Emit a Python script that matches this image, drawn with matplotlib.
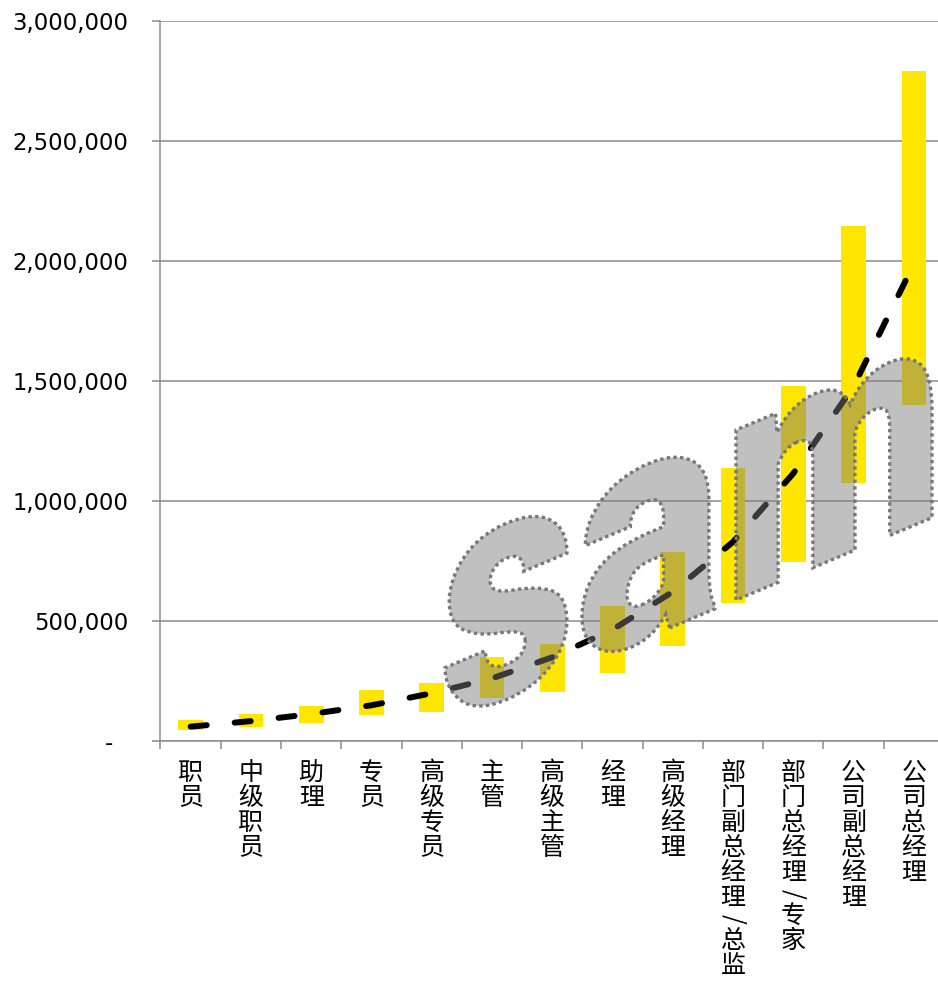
import matplotlib.pyplot as plt
import numpy as np
from matplotlib import font_manager
from matplotlib.font_manager import FontProperties
from matplotlib.patches import PathPatch
from matplotlib.path import Path
from matplotlib.textpath import TextPath
from matplotlib.ticker import FixedLocator, FuncFormatter
from matplotlib.transforms import Affine2D


GRADES = [
    "职员",
    "中级职员",
    "助理",
    "专员",
    "高级专员",
    "主管",
    "高级主管",
    "经理",
    "高级经理",
    "部门副总经理/总监",
    "部门总经理/专家",
    "公司副总经理",
    "公司总经理",
]

# salary band per grade: lower bound, upper bound and the reference level
BAND_LOW = [
    46000, 58000, 74000, 107000, 122000, 178000, 203000,
    285000, 396000, 574000, 745000, 1076000, 1400000,
]

BAND_HIGH = [
    87500, 112500, 146000, 211000, 243000, 351000, 403000,
    562000, 786000, 1139000, 1480000, 2147000, 2792000,
]

BAND_MID = [
    60000, 83000, 112500, 149000, 199000, 261000, 349000,
    464000, 622000, 830000, 1115000, 1478000, 1988000,
]

Y_TICKS = [0, 500000, 1000000, 1500000, 2000000, 2500000, 3000000]

STAMP_TEXT = "sam"

YELLOW = "#FFE600"
GRID_GRAY = "#8c8c8c"


def y_label(value, _pos):
    if value == 0:
        return "-  "
    return f"{int(value):,}"


def draw_vertical_label(axes, x, label):
    # stack the characters top to bottom under the axis
    offset = 31.5
    for char in label:
        is_slash = char == "/"
        if is_slash:
            offset -= 3.5
        axes.annotate(
            char,
            xy=(x, 0),
            xycoords=axes.get_xaxis_transform(),
            xytext=(0, -offset),
            textcoords="offset pixels",
            ha="center",
            va="center",
            fontsize=18,
            family=["Noto Sans CJK SC", "DejaVu Sans"],
            rotation=-90 if is_slash else 0,
            annotation_clip=False,
        )
        offset += 18 if is_slash else 25
        if is_slash:
            offset += 3.5


def stamp_font():
    preferred = [
        ("Roboto", 900),
        ("Lato", 900),
        ("Inter", 900),
        ("Open Sans", 800),
        ("Lato", 700),
        ("Roboto", 700),
    ]
    entries = font_manager.fontManager.ttflist
    for family, weight in preferred:
        for entry in entries:
            if (
                entry.name == family
                and entry.weight == weight
                and entry.style == "normal"
                and entry.stretch == "normal"
            ):
                return FontProperties(fname=entry.fname)
    return FontProperties(family="Liberation Sans", weight="bold")


def add_stamp(figure):
    prop = stamp_font()
    x_height = TextPath((0, 0), "x", size=1, prop=prop).get_extents().y1

    # pixel spans of each letter; letters are sheared upward to the right
    spans = [(445, 567), (582, 715), (736, 932)]
    pixel_x_height = 170
    slope = 0.42
    sy = pixel_x_height / x_height

    vertices = []
    codes = []
    for char, (left, right) in zip(STAMP_TEXT, spans):
        glyph = TextPath((0, 0), char, size=1, prop=prop)
        extents = glyph.get_extents()
        sx = (right - left) / extents.width
        tx = left - sx * extents.x0
        matrix = np.array([
            [sx, 0, tx],
            [slope * sx, sy, 381 + slope * (tx - 736)],
            [0, 0, 1],
        ])
        placed = glyph.transformed(Affine2D(matrix))
        vertices.append(placed.vertices)
        codes.append(placed.codes)
    path = Path(np.concatenate(vertices), np.concatenate(codes))

    fill = PathPatch(
        path,
        facecolor="#7a7a7a",
        edgecolor="none",
        alpha=0.475,
        zorder=5,
    )
    outline = PathPatch(
        path,
        facecolor="none",
        edgecolor="#777777",
        linewidth=2.4,
        linestyle=(0, (1, 1)),
        capstyle="butt",
        zorder=6,
    )
    for patch in (fill, outline):
        patch.set_transform(Affine2D())
        figure.add_artist(patch)


def main():
    figure = plt.figure(figsize=(9.38, 9.81), dpi=100)
    axes = figure.add_axes([0.1711, 0.2446, 0.8353, 0.734])

    positions = np.arange(len(GRADES))
    low = np.array(BAND_LOW)
    high = np.array(BAND_HIGH)

    axes.bar(
        positions,
        high - low,
        bottom=low,
        width=0.41,
        color=YELLOW,
        zorder=2,
    )

    axes.plot(
        positions,
        BAND_MID,
        color="black",
        linewidth=4.3,
        dashes=(2.7, 4.7),
        dash_capstyle="round",
        zorder=3,
    )

    axes.set_xlim(-0.5, len(GRADES) - 0.5)
    axes.set_ylim(0, 3000000)

    axes.set_yticks(Y_TICKS)
    axes.yaxis.set_major_formatter(FuncFormatter(y_label))
    axes.grid(axis="y", color=GRID_GRAY, linewidth=1.1, zorder=0)
    axes.set_axisbelow(True)

    axes.set_xticks(positions)
    axes.set_xticklabels([])
    axes.xaxis.set_minor_locator(
        FixedLocator(np.arange(-0.5, len(GRADES), 1.0))
    )
    axes.tick_params(axis="x", which="major", length=0)
    axes.tick_params(
        axis="x", which="minor", length=5.8, width=1.1, color=GRID_GRAY
    )
    axes.tick_params(
        axis="y",
        length=5.8,
        width=1.1,
        color=GRID_GRAY,
        pad=17.6,
        labelsize=16.4,
    )

    for side in ["top", "right"]:
        axes.spines[side].set_visible(False)
    for side in ["left", "bottom"]:
        axes.spines[side].set_color(GRID_GRAY)
        axes.spines[side].set_linewidth(1.1)

    for x, label in zip(positions, GRADES):
        draw_vertical_label(axes, x, label)

    add_stamp(figure)

    figure.savefig("out.png", dpi=100)
    plt.close(figure)


if __name__ == "__main__":
    main()
